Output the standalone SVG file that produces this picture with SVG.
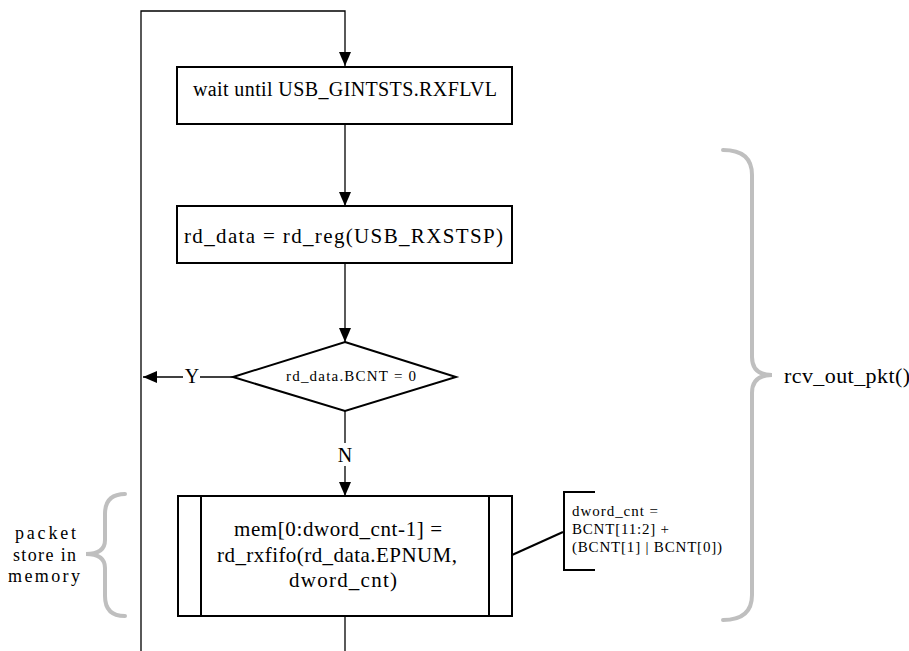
<svg xmlns="http://www.w3.org/2000/svg" width="909" height="651" viewBox="0 0 909 651">
<style>
.box{fill:#fff;stroke:#000;stroke-width:2}
.ln{fill:none;stroke:#000;stroke-width:1.3}
.br{fill:none;stroke:#bfbfbf;stroke-width:4;stroke-linecap:round}
text{font-family:'Liberation Serif','DejaVu Serif',serif;fill:#000}
</style>
<defs>
<marker id="ah2" viewBox="0 0 14 12" refX="14" refY="6" markerWidth="14" markerHeight="12" markerUnits="userSpaceOnUse" orient="auto">
<path d="M0,0 L14,6 L0,12 z" fill="#000"/>
</marker>
</defs>
<g id="connectors">
<path class="ln" d="M141,651 L141,11 L345,11 L345,66" marker-end="url(#ah2)"/>
<path class="ln" d="M345,124 L345,206" marker-end="url(#ah2)"/>
<path class="ln" d="M345,264 L345,342" marker-end="url(#ah2)"/>
<path class="ln" d="M233,377 L143,377" marker-end="url(#ah2)"/>
<path class="ln" d="M345,411 L345,443 M345,466 L345,496" marker-end="url(#ah2)"/>
<path class="ln" d="M345,616 L345,651"/>
<path class="ln" d="M512,555 L563,532" style="stroke-width:2"/>
</g>
<g id="label-Y"><rect x="183" y="368" width="17" height="18" fill="#fff"/><text x="192" y="383" font-size="20" text-anchor="middle">Y</text></g>
<g id="label-N"><text x="345" y="462" font-size="20" text-anchor="middle">N</text></g>
<g id="wait">
<rect class="box" x="177" y="67" width="335" height="57"/>
<text x="193" y="96" font-size="20" textLength="304" lengthAdjust="spacing">wait until USB_GINTSTS.RXFLVL</text>
</g>
<g id="rdreg">
<rect class="box" x="177" y="206" width="335" height="57"/>
<text x="184" y="243" font-size="21" textLength="319" lengthAdjust="spacing">rd_data = rd_reg(USB_RXSTSP)</text>
</g>
<g id="decision">
<path class="box" d="M345,342 L456,377 L345,411 L233,377 Z"/>
<text x="286" y="381" font-size="15" textLength="130" lengthAdjust="spacing">rd_data.BCNT = 0</text>
</g>
<g id="rdfifo">
<rect class="box" x="178" y="496" width="334" height="120"/>
<line class="box" x1="201" y1="496" x2="201" y2="616"/>
<line class="box" x1="489" y1="496" x2="489" y2="616"/>
<text x="234" y="536" font-size="21" textLength="208" lengthAdjust="spacing">mem[0:dword_cnt-1] =</text>
<text x="217" y="562" font-size="21" textLength="240" lengthAdjust="spacing">rd_rxfifo(rd_data.EPNUM,</text>
<text x="289" y="587" font-size="21" textLength="108" lengthAdjust="spacing">dword_cnt)</text>
</g>
<g id="annotation">
<path d="M595,492 L564,492 L564,570 L595,570" fill="none" stroke="#000" stroke-width="2"/>
<text x="572" y="516" font-size="15" textLength="86" lengthAdjust="spacing">dword_cnt =</text>
<text x="572" y="534" font-size="15" textLength="97" lengthAdjust="spacing">BCNT[11:2] +</text>
<text x="572" y="552" font-size="15" textLength="150" lengthAdjust="spacing">(BCNT[1] | BCNT[0])</text>
</g>
<g id="brace-left">
<path class="br" d="M125,494 Q105,494 105,514 L105,540 Q105,554 86,554 Q105,554 105,568 L105,596 Q105,616 125,616"/>
<text x="15" y="539" font-size="18" textLength="61" lengthAdjust="spacing">packet</text>
<text x="13" y="561" font-size="18" textLength="63" lengthAdjust="spacing">store in</text>
<text x="8" y="582" font-size="18" textLength="72" lengthAdjust="spacing">memory</text>
</g>
<g id="brace-right">
<path class="br" d="M723,150 Q752,150 752,175 L752,357 Q752,375 772,375 Q752,375 752,393 L752,595 Q752,620 723,620"/>
<text x="784" y="383" font-size="22" textLength="126" lengthAdjust="spacing">rcv_out_pkt()</text>
</g>
</svg>
